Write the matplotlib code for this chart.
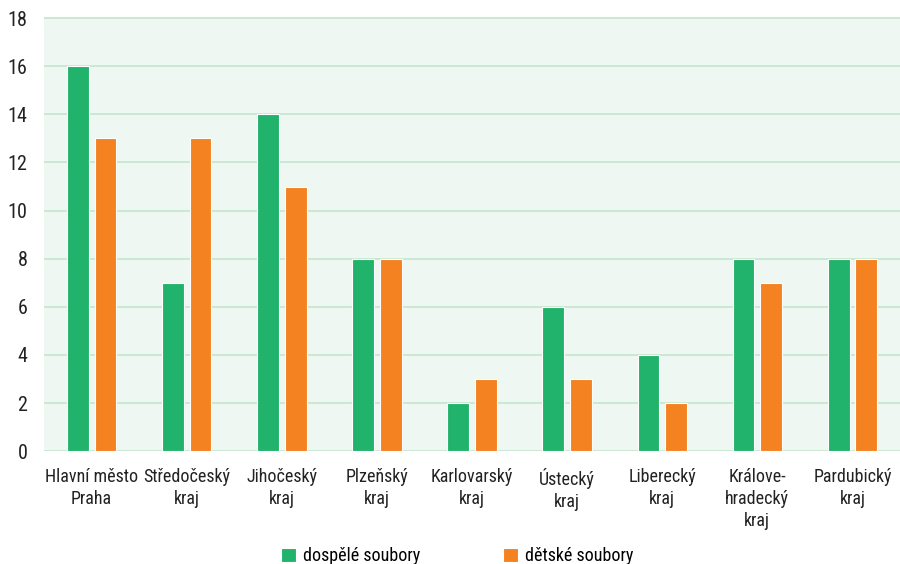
import numpy as np
import matplotlib.pyplot as plt

kraje = ["Hlavní město\nPraha", "Středočeský\nkraj", "Jihočeský\nkraj", "Plzeňský\nkraj",
         "Karlovarský\nkraj", "Ústecký\nkraj", "Liberecký\nkraj", "Králove-\nhradecký\nkraj",
         "Pardubický\nkraj"]
dospele = [16, 7, 14, 8, 2, 6, 4, 8, 8]
detske = [13, 13, 11, 8, 3, 3, 2, 7, 8]

plt.rcParams['font.family'] = ['Roboto Condensed', 'DejaVu Sans']

green = "#21b36b"
orange = "#f58220"
txt_col = "#222222"

fig = plt.figure(figsize=(9, 5.64), dpi=100)
ax = fig.add_axes([0.049, 0.2, 0.951, 0.77])
ax.set_facecolor("#eef7f1")

x = np.arange(len(kraje))
w = 0.23
ax.bar(x - 0.145, dospele, w, color=green, edgecolor="white", linewidth=0.8,
       label="dospělé soubory", zorder=3)
ax.bar(x + 0.145, detske, w, color=orange, edgecolor="white", linewidth=0.8,
       label="dětské soubory", zorder=3)

ax.set_xlim(-0.5, len(kraje) - 0.5)
ax.set_ylim(0, 18.05)
ax.set_yticks(range(0, 19, 2))
ax.grid(axis="y", color="#c3e6cf", linewidth=1.2, zorder=0)
ax.set_xticks(x)
ax.set_xticklabels(kraje, fontsize=13, color=txt_col, linespacing=1.3)
ax.tick_params(axis="y", labelsize=14.5, labelcolor=txt_col, length=0, pad=12)
ax.tick_params(axis="x", length=0, pad=12)
for s in ax.spines.values():
    s.set_visible(False)

fig.legend(loc="center", bbox_to_anchor=(0.508, 0.014), ncol=2, frameon=False,
           fontsize=13, handlelength=0.8, handleheight=0.8, columnspacing=4.6,
           handletextpad=0.4, borderpad=0)

fig.savefig("out.png", dpi=100)
